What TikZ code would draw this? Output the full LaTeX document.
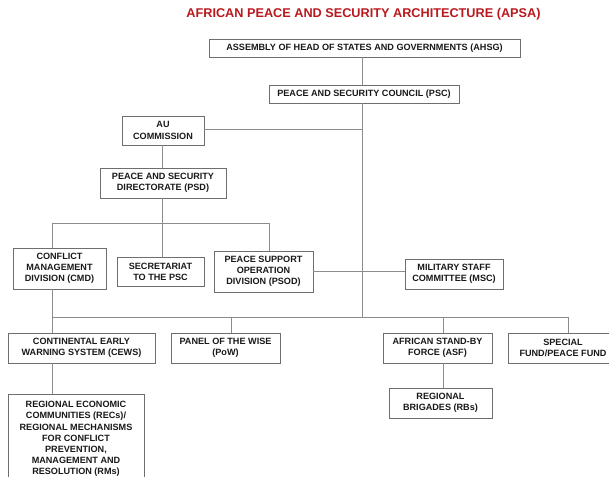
\documentclass[tikz,border=0pt]{standalone}
\usepackage{fontspec}
\setmainfont{Liberation Sans}
\definecolor{titlered}{RGB}{185,25,30}
\definecolor{linegray}{RGB}{140,140,140}
\definecolor{boxgray}{RGB}{110,110,110}
\definecolor{txt}{RGB}{25,25,25}
\begin{document}
\begin{tikzpicture}[x=1pt,y=-1pt,
  box/.style={draw=boxgray,line width=0.9pt,fill=white,inner sep=0pt,align=center,
    font=\fontsize{9.1}{11.2}\selectfont\bfseries,text=txt},
  conn/.style={draw=linegray,line width=0.9pt}]
\useasboundingbox (0,0) rectangle (609,476);
\fill[white] (0,0) rectangle (609,476);
\node[font=\fontsize{12.7}{14}\selectfont\bfseries,text=titlered] (title) at (363.5,14) {AFRICAN PEACE AND SECURITY ARCHITECTURE (APSA)};
% boxes
\node[box,minimum width=311,minimum height=18] (ahsg) at (364.5,48) {ASSEMBLY OF HEAD OF STATES AND GOVERNMENTS (AHSG)};
\node[box,minimum width=190,minimum height=18] (psc) at (364,94) {PEACE AND SECURITY COUNCIL (PSC)};
\node[box,minimum width=82,minimum height=29] (au) at (163,130.5) {AU\\COMMISSION};
\node[box,minimum width=126,minimum height=30] (psd) at (163,183) {PEACE AND SECURITY\\DIRECTORATE (PSD)};
\node[box,minimum width=93,minimum height=41] (cmd) at (59.5,268.5) {CONFLICT\\MANAGEMENT\\DIVISION (CMD)};
\node[box,minimum width=87,minimum height=29] (sec) at (160.5,271.5) {SECRETARIAT\\TO THE PSC};
\node[box,minimum width=99,minimum height=41] (psod) at (263.5,271.5) {PEACE SUPPORT\\OPERATION\\DIVISION (PSOD)};
\node[box,minimum width=98,minimum height=30] (msc) at (454,274) {MILITARY STAFF\\COMMITTEE (MSC)};
\node[box,minimum width=147,minimum height=30] (cews) at (81.5,348) {CONTINENTAL EARLY\\WARNING SYSTEM (CEWS)};
\node[box,minimum width=109,minimum height=30] (pow) at (225.5,348) {PANEL OF THE WISE\\(PoW)};
\node[box,minimum width=109,minimum height=30] (asf) at (437.5,348) {AFRICAN STAND-BY\\FORCE (ASF)};
\node[box,minimum width=110,minimum height=30] (sf) at (563,348) {SPECIAL\\FUND/PEACE FUND};
\node[box,minimum width=103,minimum height=30] (rbs) at (440.5,403) {REGIONAL\\BRIGADES (RBs)};
\node[box,minimum width=136,minimum height=90] (recs) at (76,439) {REGIONAL ECONOMIC\\COMMUNITIES (RECs)/\\REGIONAL MECHANISMS\\FOR CONFLICT\\PREVENTION,\\MANAGEMENT AND\\RESOLUTION (RMs)};
% junction coordinates
\coordinate (tr1) at (362,129);
\coordinate (tr2) at (362,317);
\coordinate (psdj) at (162,223);
\coordinate (botL) at (52,317);
\coordinate (botR) at (568,317);
\coordinate (midL) at (52,223);
\coordinate (midR) at (269,223);
\coordinate (powj) at (231,317);
\coordinate (asfj) at (443,317);
% connectors
\draw[conn] (ahsg.south -| tr1) -- (psc.north -| tr1);
\draw[conn] (psc.south -| tr1) -- (tr2);
\draw[conn] (au.east |- tr1) -- (tr1);
\draw[conn] (au.south -| psdj) -- (psd.north -| psdj);
\draw[conn] (psd.south -| psdj) -- (psdj);
\draw[conn] (midL) -- (midR);
\draw[conn] (midL) -- (cmd.north -| midL);
\draw[conn] (psdj) -- (sec.north -| psdj);
\draw[conn] (midR) -- (psod.north -| midR);
\draw[conn] (psod.east) -- (msc.west |- psod.east);
\draw[conn] (cmd.south -| botL) -- (botL);
\draw[conn] (botL) -- (botR);
\draw[conn] (botL) -- (cews.north -| botL);
\draw[conn] (powj) -- (pow.north -| powj);
\draw[conn] (asfj) -- (asf.north -| asfj);
\draw[conn] (botR) -- (sf.north -| botR);
\draw[conn] (cews.south -| botL) -- (recs.north -| botL);
\draw[conn] (asf.south -| asfj) -- (rbs.north -| asfj);
\end{tikzpicture}
\end{document}
